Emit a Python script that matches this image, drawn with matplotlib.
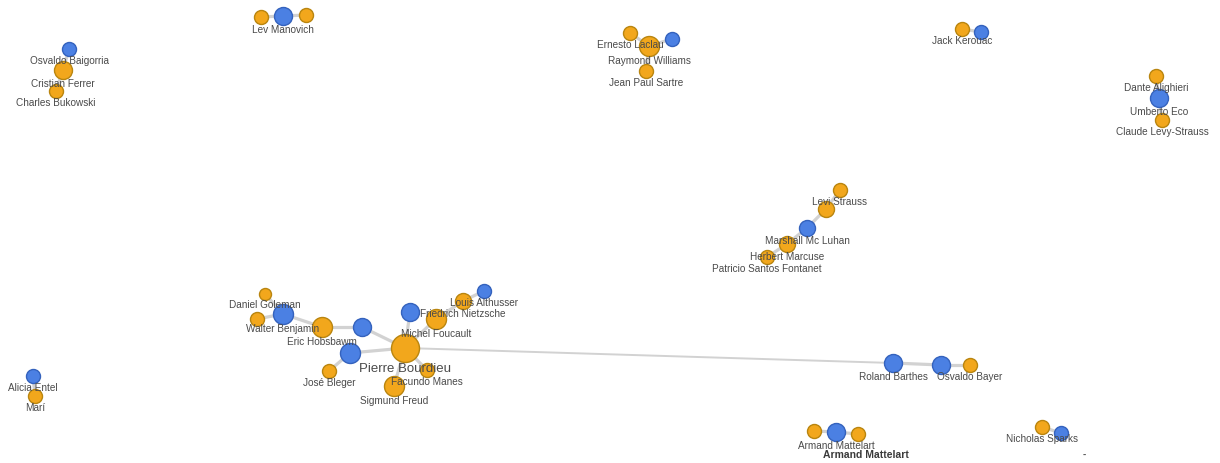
import matplotlib
matplotlib.use("Agg")
import matplotlib.pyplot as plt
from matplotlib.patches import Rectangle

plt.rcParams['font.family'] = ['Liberation Sans', 'DejaVu Sans']

# ---- graph data (layout coordinates in pixel space of the original view) ----
node_names = [
    "Lev A", "Lev Manovich", "Lev B",
    "Osvaldo Baigorria", "Cristian Ferrer", "Charles Bukowski",
    "Ernesto Laclau", "Raymond Williams", "Laclau B", "Jean Paul Sartre",
    "Jack Kerouac", "Kerouac B",
    "Dante Alighieri", "Umberto Eco", "Claude Levy-Strauss",
    "Levi Strauss", "McLuhan A", "Marshall Mc Luhan", "Herbert Marcuse", "Patricio Santos Fontanet",
    "Daniel Goleman", "Benjamin A", "Walter Benjamin", "Eric Hobsbawm", "Hobsbawm B",
    "Bourdieu B", "José Bleger", "Pierre Bourdieu", "Facundo Manes", "Sigmund Freud",
    "Foucault B", "Michel Foucault", "Friedrich Nietzsche", "Louis Althusser",
    "Roland Barthes", "Bayer B", "Osvaldo Bayer",
    "Mattelart A", "Armand Mattelart", "Mattelart C",
    "Nicholas Sparks", "Sparks B",
    "Alicia Entel", "Marí",
]
node_labels = [
    "", "Lev Manovich", "",
    "Osvaldo Baigorria", "Cristian Ferrer", "Charles Bukowski",
    "Ernesto Laclau", "Raymond Williams", "", "Jean Paul Sartre",
    "Jack Kerouac", "",
    "Dante Alighieri", "Umberto Eco", "Claude Levy-Strauss",
    "Levi Strauss", "", "Marshall Mc Luhan", "Herbert Marcuse", "Patricio Santos Fontanet",
    "Daniel Goleman", "", "Walter Benjamin", "Eric Hobsbawm", "",
    "", "José Bleger", "Pierre Bourdieu", "Facundo Manes", "Sigmund Freud",
    "", "Michel Foucault", "Friedrich Nietzsche", "Louis Althusser",
    "Roland Barthes", "", "Osvaldo Bayer",
    "", "Armand Mattelart", "",
    "Nicholas Sparks", "",
    "Alicia Entel", "Marí",
]
node_x = [261, 283, 306,
          69, 63, 56,
          630, 649, 672, 646,
          962, 981,
          1156, 1159, 1162,
          840, 826, 807, 787, 767,
          265, 257, 283, 322, 362,
          350, 329, 405, 427, 394,
          410, 436, 463, 484,
          893, 941, 970,
          814, 836, 858,
          1042, 1061,
          33, 35]
node_y = [18, 17, 16,
          50, 71, 92,
          34, 47, 40, 72,
          30, 33,
          77, 99, 121,
          191, 210, 229, 245, 258,
          295, 320, 315, 328, 328,
          354, 372, 349, 371, 387,
          313, 320, 302, 292,
          364, 366, 366,
          432, 433, 435,
          428, 434,
          377, 397]
node_r = [7, 9, 7,
          7, 9, 7,
          7, 10, 7, 7,
          7, 7,
          7, 9, 7,
          7, 8, 8, 8, 7,
          6, 7, 10, 10, 9,
          10, 7, 14, 7, 10,
          9, 10, 8, 7,
          9, 9, 7,
          7, 9, 7,
          7, 7,
          7, 7]
node_group = ["o", "b", "o",
              "b", "o", "o",
              "o", "o", "b", "o",
              "o", "b",
              "o", "b", "o",
              "o", "o", "b", "o", "o",
              "o", "o", "b", "o", "b",
              "b", "o", "o", "o", "o",
              "b", "o", "o", "b",
              "b", "b", "o",
              "o", "b", "o",
              "o", "b",
              "b", "o"]
edges = [(0, 1), (1, 2),
         (3, 4), (4, 5),
         (6, 7), (7, 8), (7, 9),
         (10, 11),
         (12, 13), (13, 14),
         (15, 16), (16, 17), (17, 18), (18, 19),
         (20, 22), (21, 22), (22, 23), (23, 24), (24, 27), (25, 27), (26, 25),
         (27, 28), (27, 29), (27, 30), (27, 31), (31, 32), (32, 33),
         (27, 34), (34, 35), (35, 36),
         (37, 38), (38, 39),
         (40, 41),
         (42, 43)]

W, H = 1220, 464
fig = plt.figure(figsize=(W / 100, H / 100), dpi=100)
ax = fig.add_axes([0, 0, 1, 1])
ax.set_xlim(0, W)
ax.set_ylim(H, 0)
ax.axis('off')

px = 0.72  # points per pixel at dpi 100

for a, b in edges:
    long = abs(node_x[a] - node_x[b]) > 200
    ax.plot([node_x[a], node_x[b]], [node_y[a], node_y[b]],
            color='#d2d2d2', lw=(1.4 if long else 2.3), zorder=1,
            solid_capstyle='round')

fill = {"o": "#f2a71c", "b": "#4b80e3"}
edge_c = {"o": "#b9850f", "b": "#3462bd"}
for i in range(len(node_x)):
    d = 2 * node_r[i] * px
    ax.scatter([node_x[i]], [node_y[i]], s=d * d, c=fill[node_group[i]],
               edgecolors=edge_c[node_group[i]], linewidths=1.0, zorder=2)

for i, lab in enumerate(node_labels):
    if not lab:
        continue
    big = lab == "Pierre Bourdieu"
    off = node_r[i] + (6 if big else 4)
    ax.text(node_x[i], node_y[i] + off, lab, ha='center', va='center',
            fontsize=(9.5 if big else 7.2), color='#4a4a4a', zorder=3)

# rendering artefact seen below Armand Mattelart (clipped, half-drawn text)
t = ax.text(866, 455, "Armand Mattelart", ha='center', va='center',
            fontsize=7.5, fontweight='bold', color='#3a3a3a', zorder=3)
clip = Rectangle((820, 454.5), 95, 5, transform=ax.transData)
t.set_clip_path(clip)
ax.text(1084, 455, "-", ha='center', va='center', fontsize=7,
        fontweight='bold', color='#555555', zorder=3)

fig.savefig("out.png", dpi=100)
